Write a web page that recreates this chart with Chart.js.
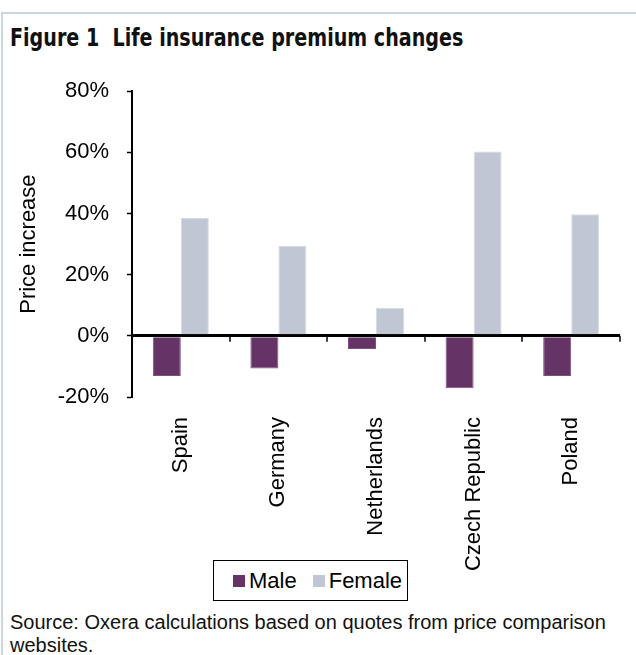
<!DOCTYPE html>
<html>
<head>
<meta charset="utf-8">
<script src="https://cdn.jsdelivr.net/npm/chart.js@4/dist/chart.umd.min.js"></script>
<style>
    html, body { margin: 0; overflow: hidden; }
    body { width: 636px; height: 655px; background: #fff; position: relative; font-family: "Liberation Sans", Arial, sans-serif; }
    #frame { position: absolute; left: 1px; top: 12px; width: 640px; height: 650px; border-top: 2px solid #cbd4e4; border-left: 2px solid #cbd4e4; }
    #title { position: absolute; left: 10px; top: 23px; font-family: "DejaVu Sans Condensed", sans-serif; font-weight: bold; font-size: 24px; line-height: 30px; color: #111; white-space: pre; transform: scaleX(0.885); transform-origin: 0 0; }
    #chart-container { position: absolute; left: 0; top: 60px; width: 636px; height: 520px; }
    #legend { position: absolute; left: 213px; top: 560px; width: 193px; height: 39px; border: 1px solid #000; background: #fff; display: flex; align-items: center; font-size: 22px; color: #000; }
    #legend .sw { width: 12px; height: 12px; margin-right: 4px; }
    #source { position: absolute; left: 10px; top: 611px; font-size: 20px; line-height: 23px; color: #111; }
</style>
</head>
<body>
<div id="frame"></div>
<div id="title">Figure 1  Life insurance premium changes</div>
<div id="chart-container"><canvas id="chart"></canvas></div>
<div id="legend"></div>
<div id="source">Source: Oxera calculations based on quotes from price comparison<br>websites.</div>
<script>
const categories = ['Spain', 'Germany', 'Netherlands', 'Czech Republic', 'Poland'];
const maleValues = [-13.1, -10.7, -4.3, -17.1, -13.1];
const femaleValues = [38.6, 29.5, 9.1, 60.3, 39.8];
const yTicks = [-20, 0, 20, 40, 60, 80];

const maleColor = '#653366';
const femaleColor = '#c0c6d3';

document.addEventListener('DOMContentLoaded', function() {
    const canvas = document.getElementById('chart');

    // small tick marks under the zero line, between categories
    const categoryTicks = {
        id: 'categoryTicks',
        afterDraw(chart) {
            const xs = chart.scales.x;
            const y0 = chart.scales.y.getPixelForValue(0);
            const ctx = chart.ctx;
            ctx.save();
            ctx.strokeStyle = '#000';
            ctx.lineWidth = 1.5;
            for (let i = 1; i <= categories.length; i++) {
                const px = Math.round(xs.getPixelForValue(i - 0.5));
                ctx.beginPath();
                ctx.moveTo(px, y0);
                ctx.lineTo(px, y0 + 6);
                ctx.stroke();
            }
            ctx.restore();
        }
    };

    new Chart(canvas, {
        type: 'bar',
        data: {
            labels: categories,
            datasets: [{
                label: 'Male',
                data: maleValues,
                backgroundColor: maleColor,
                borderColor: '#7d4f80',
                borderWidth: 1,
                categoryPercentage: 0.574,
                barPercentage: 1
            }, {
                label: 'Female',
                data: femaleValues,
                backgroundColor: femaleColor,
                borderColor: '#d6dae3',
                borderWidth: 1,
                categoryPercentage: 0.574,
                barPercentage: 1
            }]
        },
        options: {
            responsive: true,
            maintainAspectRatio: false,
            animation: false,
            layout: { padding: { top: 24, right: 16, left: 0, bottom: 0 } },
            plugins: {
                legend: { display: false },
                tooltip: { enabled: false }
            },
            scales: {
                x: {
                    grid: { display: false, drawTicks: false },
                    border: { display: false },
                    ticks: {
                        autoSkip: false,
                        maxRotation: 90,
                        minRotation: 90,
                        padding: 20,
                        color: '#000',
                        font: { family: 'Liberation Sans', size: 22 }
                    },
                    afterFit(scale) { scale.height = 183; }
                },
                y: {
                    min: -20,
                    max: 80,
                    afterBuildTicks(scale) { scale.ticks = yTicks.map(v => ({ value: v })); },
                    ticks: {
                        padding: 18,
                        color: '#000',
                        font: { family: 'Liberation Sans', size: 22 },
                        callback: v => v + '%'
                    },
                    grid: {
                        color: c => (c.tick && c.tick.value === 0) ? '#000' : 'rgba(0,0,0,0)',
                        lineWidth: c => (c.tick && c.tick.value === 0) ? 3 : 1,
                        tickColor: '#000',
                        tickWidth: 1.5,
                        tickLength: 5
                    },
                    border: { color: '#000', width: 2 },
                    title: {
                        display: true,
                        text: 'Price increase',
                        color: '#000',
                        font: { family: 'Liberation Sans', size: 22 },
                        padding: { top: 16, bottom: 0 }
                    },
                    afterFit(scale) { scale.width = 132; }
                }
            }
        },
        plugins: [categoryTicks]
    });

    // legend box
    const legend = document.getElementById('legend');
    legend.innerHTML =
        '<span class="sw" style="background:' + maleColor + ';margin-left:19px"></span><span>Male</span>' +
        '<span class="sw" style="background:' + femaleColor + ';margin-left:16px"></span><span>Female</span>';
});
</script>
</body>
</html>
